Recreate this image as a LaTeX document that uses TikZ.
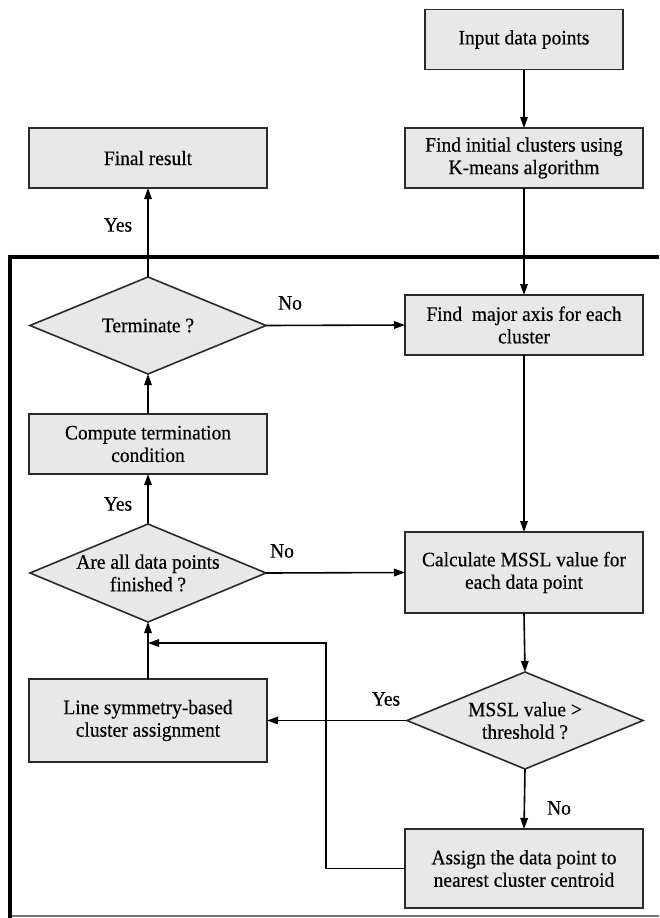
\documentclass[tikz,border=0pt]{standalone}
\usepackage{fontspec}
\setmainfont[FakeStretch=0.95,FakeBold=0.4]{Liberation Serif}
\usetikzlibrary{shapes.geometric,arrows.meta}
\definecolor{boxfill}{HTML}{E8E8E8}
\definecolor{edge}{HTML}{2A2A2A}
\tikzset{
  stepbox/.style={draw=edge, line width=1.6pt, fill=boxfill, rectangle, inner sep=0pt, outer sep=0pt,
    minimum width=238pt, align=center, font=\fontsize{20.5}{22.5}\selectfont},
  decbox/.style={draw=edge, line width=1.6pt, fill=boxfill, diamond, inner sep=0pt, outer sep=0pt,
    minimum width=236pt, minimum height=97pt},
  dectext/.style={align=center, font=\fontsize{20.5}{22.5}\selectfont, inner sep=0pt},
  lbl/.style={font=\fontsize{20.5}{22.5}\selectfont, inner sep=0pt},
  arr/.style={draw=black, line width=1.6pt, -{Triangle[length=11pt,width=7.5pt]}},
}
\begin{document}
\begin{tikzpicture}[x=1pt,y=-1pt]
\useasboundingbox (0,0) rectangle (659,918);
% frame
\draw[line width=1.5pt, black!55] (10,916) -- (659,916);
\draw[line width=4pt, black] (659,256.5) -- (10,256.5) -- (10,918);
% nodes
\node[stepbox, minimum width=198pt, minimum height=60pt] (in) at (524,39.5) {Input data points};
\node[stepbox, minimum height=60pt] (init) at (524,158) {Find initial clusters using\\K-means algorithm};
\node[stepbox, minimum height=60pt] (final) at (148,158) {Final result};
\node[decbox] (term) at (148,325.5) {};
\node[dectext] at (term) {Terminate ?};
\node[stepbox, minimum height=60pt] (major) at (524,325) {Find\ \ major axis for each\\cluster};
\node[stepbox, minimum height=60pt] (comp) at (148,444) {Compute termination\\condition};
\node[decbox, minimum height=98pt] (alld) at (148,573) {};
\node[dectext] at (alld) {Are all data points\\finished ?};
\node[stepbox, minimum height=81pt] (calc) at (524,572.5) {Calculate MSSL value for\\each data point};
\node[stepbox, minimum height=83pt] (lsym) at (148,720.5) {Line symmetry-based\\cluster assignment};
\node[decbox] (mssl) at (525,720.5) {};
\node[dectext] at (mssl) {MSSL value {>}\\threshold ?};
\node[stepbox, minimum height=79pt] (assign) at (524,868.5) {Assign the data point to\\nearest cluster centroid};
\coordinate (turn) at (326,643);
\coordinate (join) at (148,643);
% connectors
\draw[arr] (in.south) -- (init.north);
\draw[arr] (init.south) -- (major.north);
\draw[arr] (term.north) -- (final.south);
\draw[arr] (term.east) -- (major.west);
\draw[arr] (major.south) -- (calc.north);
\draw[arr] (comp.north) -- (term.south);
\draw[arr] (alld.north) -- (comp.south);
\draw[arr] (alld.east) -- (calc.west);
\draw[arr] (calc.south) -- (mssl.north);
\draw[arr] (mssl.west) -- (lsym.east);
\draw[arr] (mssl.south) -- (assign.north);
\draw[arr] (lsym.north) -- (alld.south);
\draw[arr] (assign.west) -| (turn) -- (join);
% labels
\node[lbl] (y1) at (118,225) {Yes};
\node[lbl] (n1) at (290,303) {No};
\node[lbl] (y2) at (118,504) {Yes};
\node[lbl] (n2) at (282,551) {No};
\node[lbl] (y3) at (386,699) {Yes};
\node[lbl] (n3) at (559,808) {No};
\end{tikzpicture}
\end{document}
